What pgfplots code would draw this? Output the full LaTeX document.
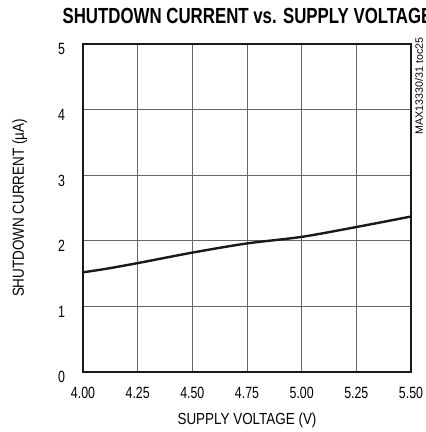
\documentclass[border=0pt]{standalone}
\usepackage{fontspec}
\setmainfont{Liberation Sans}
\usepackage{graphicx}
\usepackage{pgfplots}
\pgfplotsset{compat=1.18}
\newcommand\nw[1]{\scalebox{0.76}[1]{#1}}
\newcommand\lw[1]{\scalebox{0.84}[1]{#1}}
\begin{document}
\begin{tikzpicture}
\begin{axis}[
  at={(0,0)}, anchor=south west,
  scale only axis, width=246pt, height=246pt,
  xmin=4, xmax=5.5, ymin=0, ymax=5,
  xtick={4,4.25,4.5,4.75,5,5.25,5.5},
  xticklabels={\nw{4.00},\nw{4.25},\nw{4.50},\nw{4.75},\nw{5.00},\nw{5.25},\nw{5.50}},
  ytick={0,1,2,3,4,5},
  yticklabels={\nw{0},\nw{1},\nw{2},\nw{3},\nw{4},\nw{5}},
  grid=major,
  major grid style={line width=0.6pt, color=black!60},
  major tick length=0pt,
  axis line style={line width=1.5pt, black!90},
  tick label style={font=\fontsize{12.2}{14}\selectfont},
  xticklabel style={yshift=-8pt},
  yticklabel style={xshift=-10pt, yshift=-4pt},
  xlabel={\lw{SUPPLY VOLTAGE (V)}},
  label style={font=\fontsize{12}{14}\selectfont},
  xlabel style={yshift=-4pt},
  clip=false,
]
\addplot[black!90, line width=1.8pt, smooth] coordinates {
 (4.00,1.52) (4.10,1.57) (4.25,1.66) (4.50,1.82) (4.75,1.96) (5.00,2.06) (5.25,2.21) (5.50,2.37)
};
\end{axis}
\node[font=\fontsize{12}{14}\selectfont, inner sep=0pt, anchor=center] at (-47.5pt,123pt) {\rotatebox{90}{\lw{SHUTDOWN CURRENT (µA)}}};
\node[font=\fontsize{8}{9}\selectfont, inner sep=0pt, anchor=north west] at (249pt,251pt) {\rotatebox{90}{MAX13330/31 toc25}};
\node[anchor=base west, font=\bfseries\fontsize{16.4}{18}\selectfont, inner sep=0pt] at (-15.5pt,261pt) {\scalebox{0.77}[1]{SHUTDOWN CURRENT vs. SUPPLY VOLTAGE}};
\pgfresetboundingbox
\path[use as bounding box] (-62.25pt,-45pt) rectangle (256.5pt,279pt);
\end{tikzpicture}
\end{document}
